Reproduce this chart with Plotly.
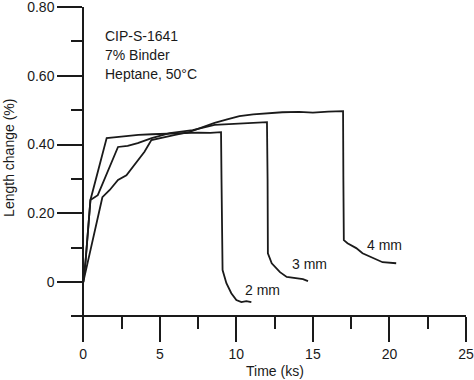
import plotly.graph_objects as go

# ---- data ----
t_2mm = [0, 0.15, 0.47, 1.0, 1.53, 2.0, 2.8, 3.6, 4.5, 5.5, 6.5, 7.5, 8.3, 9.0,
         9.03, 9.05, 9.1, 9.35, 9.67, 10.0, 10.33, 10.65, 10.98]
v_2mm = [0, 0.06, 0.239, 0.329, 0.419, 0.421, 0.425, 0.428, 0.430, 0.432, 0.434, 0.435, 0.434, 0.436,
         0.30, 0.084, 0.035, -0.003, -0.032, -0.052, -0.058, -0.055, -0.058]

t_3mm = [0, 0.15, 0.47, 0.95, 2.27, 2.9, 3.56, 4.47, 5.65, 7.15, 8.58, 10.2, 11.2, 12.0,
         12.04, 12.06, 12.31, 12.85, 13.29, 13.94, 14.35, 14.68]
v_3mm = [0, 0.06, 0.239, 0.253, 0.393, 0.396, 0.404, 0.419, 0.433, 0.442, 0.457, 0.460, 0.463, 0.465,
         0.30, 0.084, 0.055, 0.029, 0.015, 0.012, 0.009, 0.003]

t_4mm = [0, 0.25, 1.25, 1.73, 2.27, 2.82, 3.47, 4.0, 4.45, 5.0, 6.0, 6.95, 7.8, 8.58, 9.4,
         10.2, 11.1, 12.04, 13.0, 14.1, 15.0, 16.0, 16.97,
         16.99, 17.02, 17.26, 17.83, 18.24, 18.9, 19.55, 20.44]
v_4mm = [0, 0.05, 0.247, 0.268, 0.297, 0.311, 0.35, 0.379, 0.413, 0.419, 0.428, 0.437, 0.450, 0.463, 0.473,
         0.483, 0.488, 0.492, 0.494, 0.495, 0.493, 0.496, 0.497,
         0.30, 0.122, 0.113, 0.099, 0.084, 0.07, 0.058, 0.055]

series_names = ["2 mm", "3 mm", "4 mm"]
label_t = [11.68, 14.8, 19.68]
label_v = [-0.023, 0.052, 0.108]

x_major = [0, 5, 10, 15, 20, 25]
x_minor = [2.5, 7.5, 12.5, 17.5, 22.5]
y_major = [0, 0.2, 0.4, 0.6, 0.8]
y_major_text = ["0", "0.20", "0.40", "0.60", "0.80"]
y_minor = [0.1, 0.3, 0.5, 0.7]

info_lines = ["CIP-S-1641", "7% Binder", "Heptane, 50°C"]
info_v = [0.717, 0.660, 0.605]

FONT = "Liberation Sans, Arial, sans-serif"
INK = "#1a1a1a"

fig = go.Figure()
for t, v, name in zip([t_2mm, t_3mm, t_4mm], [v_2mm, v_3mm, v_4mm], series_names):
    fig.add_trace(go.Scatter(x=t, y=v, mode="lines", name=name,
                             line=dict(color=INK, width=1.8), showlegend=False))

for name, tx, vy in zip(series_names, label_t, label_v):
    fig.add_annotation(x=tx, y=vy, xref="x", yref="y", text=name, showarrow=False,
                       font=dict(family=FONT, size=14, color=INK), xanchor="center", yanchor="middle")

for line, vy in zip(info_lines, info_v):
    fig.add_annotation(x=1.27, y=vy, xref="x", yref="y", text=line, showarrow=False,
                       font=dict(family=FONT, size=14, color=INK), xanchor="left", yanchor="middle")

fig.add_annotation(x=-0.157, y=0.51, xref="paper", yref="paper", text="Length change (%)",
                   textangle=-90, showarrow=False, font=dict(family=FONT, size=14, color=INK),
                   xanchor="center", yanchor="middle")
fig.add_annotation(x=12.5, y=-0.182, xref="x", yref="paper", text="Time (ks)",
                   showarrow=False, font=dict(family=FONT, size=14, color=INK),
                   xanchor="center", yanchor="middle")

fig.update_xaxes(range=[-0.8, 25.0], showline=True, linecolor=INK, linewidth=2,
                 automargin=False, ticklabeloverflow="allow",
                 ticks="outside", ticklen=25, tickwidth=2, tickcolor=INK,
                 tickvals=x_major, ticktext=[str(v) for v in x_major],
                 tickfont=dict(family=FONT, size=14, color=INK),
                 minor=dict(tickvals=x_minor, ticks="outside", ticklen=12, tickwidth=2, tickcolor=INK),
                 showgrid=False, zeroline=False)
fig.update_yaxes(range=[-0.0955, 0.8], showline=True, linecolor=INK, linewidth=2,
                 automargin=False, ticklabeloverflow="allow",
                 anchor="free", position=0.8 / 25.8,
                 ticks="outside", ticklen=25, tickwidth=2, tickcolor=INK,
                 tickvals=y_major, ticktext=y_major_text,
                 tickfont=dict(family=FONT, size=14, color=INK),
                 minor=dict(tickvals=y_minor, ticks="outside", ticklen=11, tickwidth=2, tickcolor=INK),
                 showgrid=False, zeroline=False)

fig.update_layout(width=474, height=380, margin=dict(l=71, r=8, t=7, b=65),
                  plot_bgcolor="white", paper_bgcolor="white", showlegend=False)

fig.write_html("out.html", config={"displayModeBar": False},
               post_script="document.body.style.margin='0';document.body.style.padding='0';")
